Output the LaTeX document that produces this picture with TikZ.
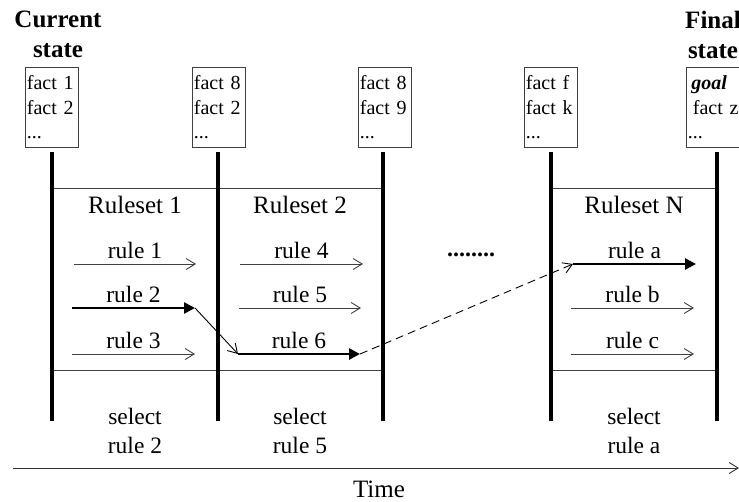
\documentclass[tikz,border=0pt]{standalone}
\usepackage{fontspec}
\setmainfont{Liberation Serif}
\usetikzlibrary{arrows.meta}

\begin{document}
\begin{tikzpicture}[x=1pt,y=-1pt,
  stateline/.style={line width=4.6pt},
  factbox/.style={draw=black!75, line width=0.8pt, minimum width=53pt,
    minimum height=80pt, text width=50pt, inner xsep=1.5pt, inner ysep=0pt,
    align=left, anchor=north west, font=\fontsize{20}{24.5}\selectfont},
  heading/.style={font=\bfseries\fontsize{25}{30}\selectfont, align=center,
    anchor=north, inner sep=0pt},
  rsbox/.style={draw=black!75, line width=0.8pt, minimum height=182pt, inner sep=0pt},
  rstitle/.style={font=\fontsize{25}{30}\selectfont, anchor=base, inner sep=0pt},
  rulelabel/.style={font=\fontsize{23.5}{28}\selectfont, anchor=base,
    inner sep=0pt, midway, yshift=6pt},
  plainrule/.style={draw=black!75, line width=0.9pt,
    -{Straight Barb[length=9pt,width=11pt]}},
  chosenrule/.style={line width=2.6pt, -{Triangle[length=11pt,width=11pt]}},
  link/.style={line width=0.9pt, -{Straight Barb[length=9pt,width=11pt]}},
  jump/.style={line width=0.9pt, dash pattern=on 8pt off 5pt,
    -{Straight Barb[length=9pt,width=11pt]}},
  choice/.style={font=\fontsize{23.5}{29}\selectfont, align=center,
    anchor=north, inner sep=0pt},
  timeaxis/.style={draw=black!80, line width=0.9pt,
    -{Straight Barb[length=9pt,width=11pt]}}
]
\useasboundingbox (0,0) rectangle (739,501);

% state headings
\node[heading] (cur) at (58,11) {Current\\state};
\node[heading] (fin) at (713,11) {Final\\state};

% fact lists of the states
\node[factbox] (f1) at (25,67) {fact 1\\fact 2\\...};
\node[factbox] (f2) at (192,67) {fact 8\\fact 2\\...};
\node[factbox] (f3) at (358,67) {fact 8\\fact 9\\...};
\node[factbox] (f4) at (524,67) {fact f\\fact k\\...};
\node[factbox, minimum width=56pt, text width=53pt] (f5) at (686,67)
  {\hspace*{3.5pt}{\bfseries\itshape goal}\\\hspace*{5pt}fact~z\\...};

% ruleset frames
\node[rsbox, minimum width=166pt] (rs1) at (135,279) {};
\node[rsbox, minimum width=165pt] (rs2) at (300.5,279) {};
\node[rsbox, minimum width=166pt] (rsn) at (634,279) {};

\node[rstitle] (t1) at (135,213) {Ruleset 1};
\node[rstitle] (t2) at (300,213) {Ruleset 2};
\node[rstitle] (tn) at (634,213) {Ruleset N};

% state lines
\foreach \i/\x in {1/52, 2/218, 3/383, 4/551, 5/717} {
  \coordinate (s\i t) at (\x,152);
  \coordinate (s\i b) at (\x,421);
  \draw[stateline] (s\i t) -- (s\i b);
}

% rule arrows
\coordinate (r1s) at (74,264);  \coordinate (r1e) at (196,264);
\coordinate (r2s) at (72,308);  \coordinate (r2e) at (195,308);
\coordinate (r3s) at (72,354);  \coordinate (r3e) at (195,354);
\coordinate (r4s) at (240,264); \coordinate (r4e) at (363,264);
\coordinate (r5s) at (239,308); \coordinate (r5e) at (361,308);
\coordinate (r6s) at (238,354); \coordinate (r6e) at (360,354);
\coordinate (ras) at (573,264); \coordinate (rae) at (696,264);
\coordinate (rbs) at (571,308); \coordinate (rbe) at (694,308);
\coordinate (rcs) at (571,354); \coordinate (rce) at (694,354);

\draw[plainrule]  (r1s) -- node[rulelabel] (l1) {rule 1} (r1e);
\draw[chosenrule] (r2s) -- node[rulelabel] (l2) {rule 2} (r2e);
\draw[plainrule]  (r3s) -- node[rulelabel] (l3) {rule 3} (r3e);
\draw[plainrule]  (r4s) -- node[rulelabel] (l4) {rule 4} (r4e);
\draw[plainrule]  (r5s) -- node[rulelabel] (l5) {rule 5} (r5e);
\draw[chosenrule] (r6s) -- node[rulelabel] (l6) {rule 6} (r6e);
\draw[chosenrule] (ras) -- node[rulelabel] (la) {rule a} (rae);
\draw[plainrule]  (rbs) -- node[rulelabel] (lb) {rule b} (rbe);
\draw[plainrule]  (rcs) -- node[rulelabel] (lc) {rule c} (rce);

% chaining of the chosen rules
\draw[link] (r2e) -- (r6s);
\draw[jump] (r6e) -- (ras);

\node[rstitle, font=\bfseries\fontsize{24}{28}\selectfont] (gap) at (471,256) {........};

% selections
\node[choice] (c1) at (135,408) {select\\rule 2};
\node[choice] (c2) at (300,408) {select\\rule 5};
\node[choice] (cn) at (634,408) {select\\rule a};

% time axis
\coordinate (ax0) at (13,468);
\coordinate (ax1) at (739,468);
\draw[timeaxis] (ax0) -- (ax1);
\node[rstitle] (time) at (379,497) {Time};
\end{tikzpicture}
\end{document}
